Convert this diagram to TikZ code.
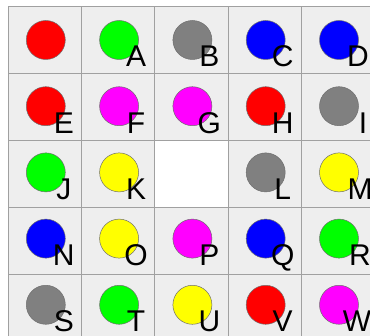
\documentclass[tikz,border=0pt]{standalone}
\usepackage{fontspec}
\setmainfont{Liberation Sans}

\definecolor{cellgray}{HTML}{EEEEEE}
\definecolor{linegray}{HTML}{A0A0A0}
\definecolor{rimgray}{HTML}{6E6E6E}
\definecolor{ballred}{HTML}{FF0000}
\definecolor{ballgreen}{HTML}{00FF00}
\definecolor{ballgray}{HTML}{808080}
\definecolor{ballblue}{HTML}{0000FF}
\definecolor{ballpink}{HTML}{FF00FF}
\definecolor{ballyellow}{HTML}{FFFF00}

\begin{document}
\begin{tikzpicture}[x=1pt, y=-1pt,
    cellbox/.style={rectangle, draw=linegray, fill=cellgray, line width=0.8pt,
        minimum width=73.3pt, minimum height=67pt, inner sep=0pt},
    ball/.style={circle, draw=rimgray, line width=0.5pt, minimum size=39pt, inner sep=0pt},
    tag/.style={anchor=base, inner sep=0pt, font=\fontsize{30}{36}\selectfont}]

    % frame of the picture
    \path[use as bounding box, clip] (0,0) rectangle (370,336);

    % row 1
    \node[cellbox] (c11) at (44.65,39.8) {};
    \node[cellbox] (c12) at (117.95,39.8) {};
    \node[cellbox] (c13) at (191.25,39.8) {};
    \node[cellbox] (c14) at (264.55,39.8) {};
    \node[cellbox] (c15) at (337.85,39.8) {};

    % row 2
    \node[cellbox] (c21) at (44.65,106.8) {};
    \node[cellbox] (c22) at (117.95,106.8) {};
    \node[cellbox] (c23) at (191.25,106.8) {};
    \node[cellbox] (c24) at (264.55,106.8) {};
    \node[cellbox] (c25) at (337.85,106.8) {};

    % row 3 (middle cell left empty)
    \node[cellbox] (c31) at (44.65,173.8) {};
    \node[cellbox] (c32) at (117.95,173.8) {};
    \node[cellbox, fill=white] (c33) at (191.25,173.8) {};
    \node[cellbox] (c34) at (264.55,173.8) {};
    \node[cellbox] (c35) at (337.85,173.8) {};

    % row 4
    \node[cellbox] (c41) at (44.65,240.8) {};
    \node[cellbox] (c42) at (117.95,240.8) {};
    \node[cellbox] (c43) at (191.25,240.8) {};
    \node[cellbox] (c44) at (264.55,240.8) {};
    \node[cellbox] (c45) at (337.85,240.8) {};

    % row 5
    \node[cellbox] (c51) at (44.65,307.8) {};
    \node[cellbox] (c52) at (117.95,307.8) {};
    \node[cellbox] (c53) at (191.25,307.8) {};
    \node[cellbox] (c54) at (264.55,307.8) {};
    \node[cellbox] (c55) at (337.85,307.8) {};

    % balls, row 1
    \node[ball, fill=ballred] (b11) at (45.8,40) {};
    \node[ball, fill=ballgreen] (b12) at (119.1,40) {};
    \node[ball, fill=ballgray] (b13) at (192.4,40) {};
    \node[ball, fill=ballblue] (b14) at (265.7,40) {};
    \node[ball, fill=ballblue] (b15) at (339,40) {};

    % balls, row 2
    \node[ball, fill=ballred] (b21) at (45.8,106.2) {};
    \node[ball, fill=ballpink] (b22) at (119.1,106.2) {};
    \node[ball, fill=ballpink] (b23) at (192.4,106.2) {};
    \node[ball, fill=ballred] (b24) at (265.7,106.2) {};
    \node[ball, fill=ballgray] (b25) at (339,106.2) {};

    % balls, row 3
    \node[ball, fill=ballgreen] (b31) at (45.8,172.4) {};
    \node[ball, fill=ballyellow] (b32) at (119.1,172.4) {};
    \node[ball, fill=ballgray] (b34) at (265.7,172.4) {};
    \node[ball, fill=ballyellow] (b35) at (339,172.4) {};

    % balls, row 4
    \node[ball, fill=ballblue] (b41) at (45.8,238.6) {};
    \node[ball, fill=ballyellow] (b42) at (119.1,238.6) {};
    \node[ball, fill=ballpink] (b43) at (192.4,238.6) {};
    \node[ball, fill=ballblue] (b44) at (265.7,238.6) {};
    \node[ball, fill=ballgreen] (b45) at (339,238.6) {};

    % balls, row 5
    \node[ball, fill=ballgray] (b51) at (45.8,304.8) {};
    \node[ball, fill=ballgreen] (b52) at (119.1,304.8) {};
    \node[ball, fill=ballyellow] (b53) at (192.4,304.8) {};
    \node[ball, fill=ballred] (b54) at (265.7,304.8) {};
    \node[ball, fill=ballpink] (b55) at (339,304.8) {};

    % letters
    \node[tag] (t12) at (136.1,67) {A};
    \node[tag] (t13) at (209.4,67) {B};
    \node[tag] (t14) at (282.7,67) {C};
    \node[tag] (t15) at (358,67) {D};

    \node[tag] (t21) at (63.8,133.2) {E};
    \node[tag] (t22) at (136.1,133.2) {F};
    \node[tag] (t23) at (209.4,133.2) {G};
    \node[tag] (t24) at (282.7,133.2) {H};
    \node[tag] (t25) at (363,133.2) {I};

    \node[tag] (t31) at (63.8,199.4) {J};
    \node[tag] (t32) at (136.1,199.4) {K};
    \node[tag] (t34) at (282.7,199.4) {L};
    \node[tag] (t35) at (360,199.4) {M};

    \node[tag] (t41) at (63.8,265.6) {N};
    \node[tag] (t42) at (136.1,265.6) {O};
    \node[tag] (t43) at (209.4,265.6) {P};
    \node[tag] (t44) at (282.7,265.6) {Q};
    \node[tag] (t45) at (360,265.6) {R};

    \node[tag] (t51) at (63.8,331.8) {S};
    \node[tag] (t52) at (136.1,331.8) {T};
    \node[tag] (t53) at (209.4,331.8) {U};
    \node[tag] (t54) at (282.7,331.8) {V};
    \node[tag] (t55) at (357,331.8) {W};

\end{tikzpicture}
\end{document}
